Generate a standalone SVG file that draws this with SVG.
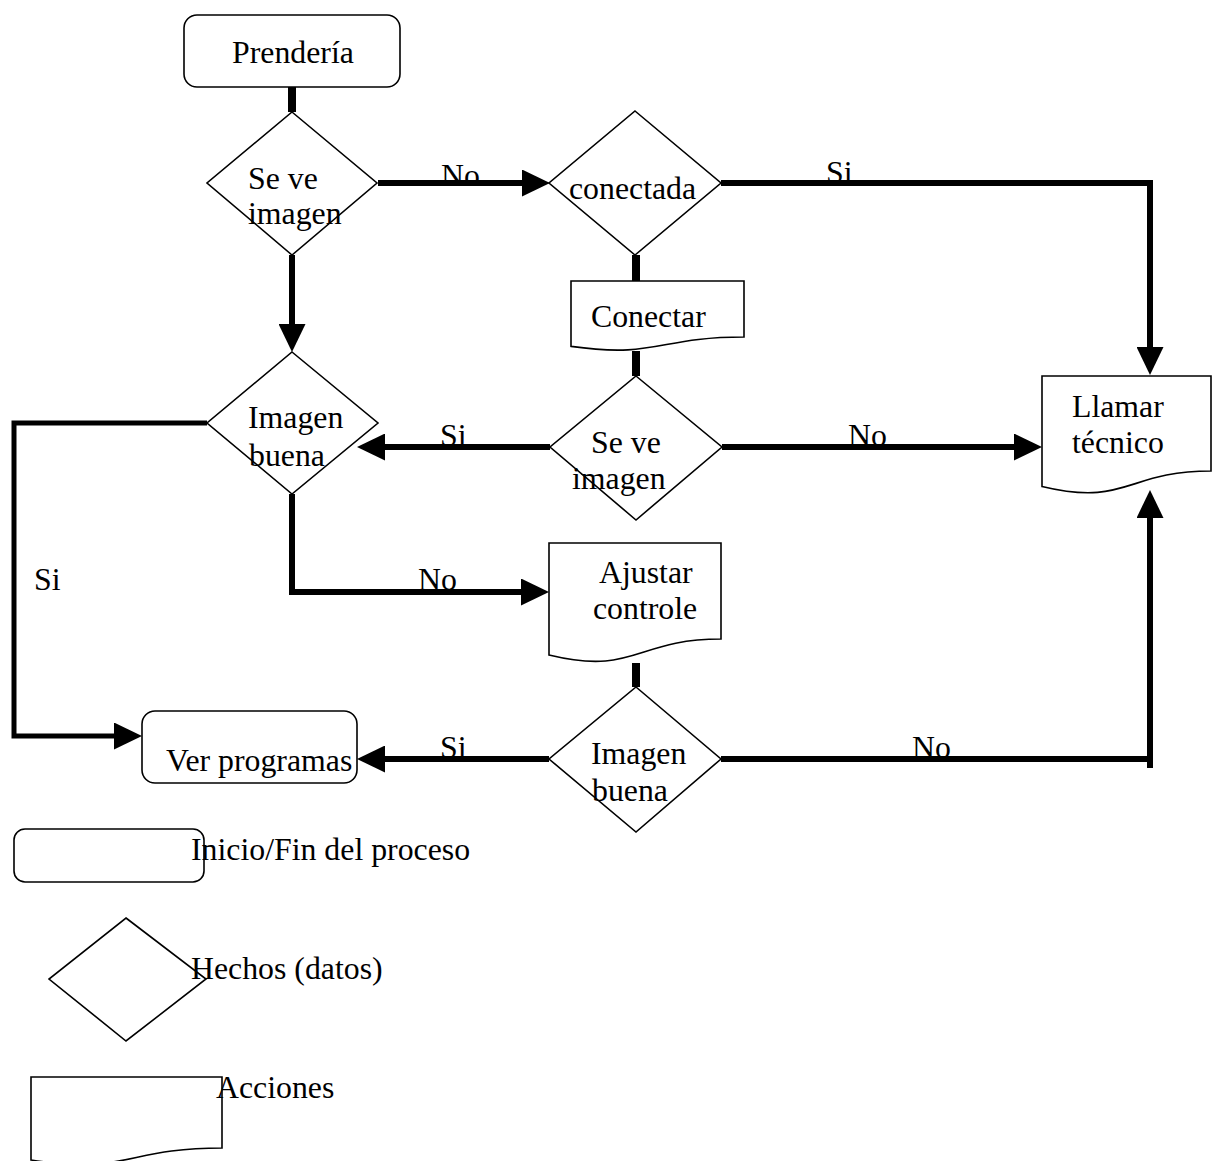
<svg xmlns="http://www.w3.org/2000/svg" width="1214" height="1161" viewBox="0 0 1214 1161">
<style>
.s{fill:#fff;stroke:#000;stroke-width:1.6}
.t{font-family:"Liberation Serif","Times New Roman",serif;font-size:31.8px;fill:#000}
.c{fill:none;stroke:#000;stroke-width:6}
.stub{fill:none;stroke:#000;stroke-width:8}
.thin{fill:none;stroke:#000;stroke-width:5}
</style>
<defs>
<marker id="ah" markerUnits="userSpaceOnUse" markerWidth="28" markerHeight="27" refX="8" refY="13.5" orient="auto" viewBox="0 0 28 27">
<path d="M0,0 L28,13.5 L0,27 Z" fill="#000"/>
</marker>
</defs>
<rect width="1214" height="1161" fill="#fff"/>

<g id="labels">
<text class="t" x="441" y="186">No</text>
<text class="t" x="826" y="183">Si</text>
<text class="t" x="440" y="446">Si</text>
<text class="t" x="848" y="446">No</text>
<text class="t" x="34" y="590">Si</text>
<text class="t" x="418" y="590">No</text>
<text class="t" x="440" y="758">Si</text>
<text class="t" x="912" y="758">No</text>
</g>

<g id="prenderia">
<rect class="s" x="184" y="15" width="216" height="72" rx="13"/>
<text class="t" x="232" y="63">Prendería</text>
</g>
<g id="seve1">
<polygon class="s" points="292,112 377,183 292,255 207,183"/>
<text class="t" x="248" y="189">Se ve</text>
<text class="t" x="248" y="224">imagen</text>
</g>
<g id="conectada">
<polygon class="s" points="635,111 721,183 635,255 549,183"/>
<text class="t" x="569" y="199">conectada</text>
</g>
<g id="conectar">
<path class="s" d="M571,281 H744 V337 C657.5,337 657.5,358.5 571,346.4 Z"/>
<text class="t" x="591" y="327">Conectar</text>
</g>
<g id="seve2">
<polygon class="s" points="636,376 722,447 636,520 550,447"/>
<text class="t" x="591" y="453">Se ve</text>
<text class="t" x="572" y="489">imagen</text>
</g>
<g id="llamar">
<path class="s" d="M1042,376 H1211 V471 C1126.5,471 1126.5,507 1042,486.5 Z"/>
<text class="t" x="1072" y="417">Llamar</text>
<text class="t" x="1072" y="453">técnico</text>
</g>
<g id="imagenbuena1">
<polygon class="s" points="292,352 378,423 292,494 207,423"/>
<text class="t" x="248" y="428">Imagen</text>
<text class="t" x="249" y="466">buena</text>
</g>
<g id="ajustar">
<path class="s" d="M549,543 H721 V639 C635,639 635,675.8 549,655 Z"/>
<text class="t" x="599" y="583">Ajustar</text>
<text class="t" x="593" y="619">controle</text>
</g>
<g id="imagenbuena2">
<polygon class="s" points="636,687 721,759 636,832 549,759"/>
<text class="t" x="591" y="764">Imagen</text>
<text class="t" x="592" y="801">buena</text>
</g>
<g id="verprogramas">
<rect class="s" x="142" y="711" width="215" height="72" rx="13"/>
<text class="t" x="166" y="771">Ver programas</text>
</g>

<g id="connectors">
<path class="stub" d="M292,87 V112"/>
<path class="c" d="M292,255 V332" marker-end="url(#ah)"/>
<path class="c" d="M378,183 H530" marker-end="url(#ah)"/>
<path class="c" d="M721,183 H1150 V355" marker-end="url(#ah)"/>
<path class="stub" d="M636,255 V281"/>
<path class="stub" d="M636,351 V376"/>
<path class="c" d="M550,447 H377" marker-end="url(#ah)"/>
<path class="c" d="M722,447 H1022" marker-end="url(#ah)"/>
<path class="thin" d="M207,423 H14 V736 H122" marker-end="url(#ah)"/>
<path class="c" d="M292,494 V592 H529" marker-end="url(#ah)"/>
<path class="stub" d="M636,663 V687"/>
<path class="c" d="M549,759 H377" marker-end="url(#ah)"/>
<path class="c" d="M721,759 H1150 M1150,768 V510" marker-end="url(#ah)"/>
</g>

<g id="legend">
<g id="legend-inicio">
<rect class="s" x="14" y="829" width="190" height="53" rx="11"/>
<text class="t" x="191" y="860">Inicio/Fin del proceso</text>
</g>
<g id="legend-hechos">
<polygon class="s" points="126,918 206,979 126,1041 49,979"/>
<text class="t" x="191" y="979">Hechos (datos)</text>
</g>
<g id="legend-acciones">
<path class="s" d="M31,1077 H222 V1148 C126.5,1148 126.5,1175 31,1160 Z"/>
<text class="t" x="216" y="1098">Acciones</text>
</g>
</g>
</svg>
